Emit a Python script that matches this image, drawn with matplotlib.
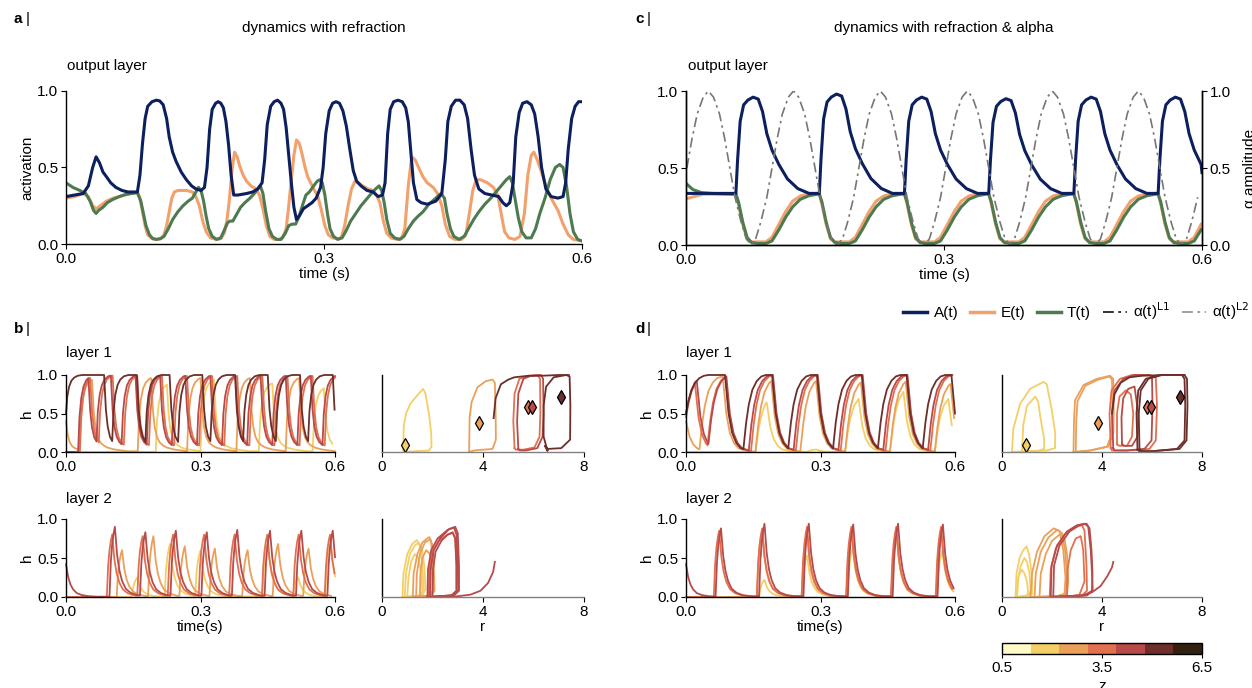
import matplotlib
matplotlib.use("Agg")
import matplotlib.pyplot as plt
import numpy as np
from matplotlib.colors import ListedColormap, BoundaryNorm
from matplotlib.lines import Line2D
import matplotlib as mpl

plt.rcParams['font.family'] = ['Liberation Sans', 'DejaVu Sans']
plt.rcParams['font.size'] = 11
plt.rcParams['axes.linewidth'] = 1.0

W, H = 1252, 688

# ---------------- colours ----------------
C_A = '#0c1f5e'
C_E = '#f2a06c'
C_T = '#4e7a50'
Z_COLORS = ['#fffbc9', '#f4cf66', '#eba05a', '#e2704f', '#b84a4a', '#6c2f2a', '#33210f']
Z_BOUNDS = [0.5, 1.357, 2.214, 3.071, 3.929, 4.786, 5.643, 6.5]

# ---------------- panel a: output layer (refraction) ----------------
A_PTS = [(0, .31), (.01, .32), (.02, .33), (.026, .38), (.031, .50), (.035, .57), (.039, .53), (.043, .47),
         (.047, .44), (.052, .40), (.058, .37), (.065, .35), (.072, .34), (.083, .34), (.086, .45), (.089, .66),
         (.092, .82), (.095, .90), (.1, .93), (.105, .94), (.109, .935), (.113, .91), (.117, .82), (.12, .7),
         (.124, .6), (.128, .54), (.134, .47), (.14, .42), (.146, .38), (.151, .36), (.157, .35), (.161, .37),
         (.164, .5), (.167, .75), (.17, .88), (.174, .92), (.177, .93), (.18, .92), (.183, .89), (.186, .8),
         (.189, .65), (.192, .45), (.195, .32), (.2, .32), (.21, .33), (.217, .34), (.223, .36), (.228, .4),
         (.231, .55), (.234, .78), (.238, .9), (.242, .93), (.246, .94), (.25, .92), (.253, .88), (.256, .76),
         (.259, .58), (.262, .4), (.265, .24), (.268, .16), (.272, .19), (.276, .23), (.281, .25), (.286, .27),
         (.291, .3), (.296, .37), (.299, .5), (.302, .72), (.306, .87), (.31, .92), (.314, .93), (.318, .92),
         (.322, .87), (.326, .77), (.33, .62), (.334, .48), (.338, .41), (.343, .38), (.35, .35), (.357, .34),
         (.363, .31), (.368, .32), (.371, .4), (.374, .72), (.377, .88), (.381, .93), (.386, .94), (.391, .93),
         (.395, .89), (.398, .8), (.401, .6), (.404, .4), (.408, .29), (.413, .27), (.42, .26), (.43, .28),
         (.437, .33), (.441, .55), (.444, .8), (.448, .9), (.453, .94), (.458, .94), (.463, .91), (.467, .82),
         (.471, .62), (.475, .45), (.48, .36), (.487, .33), (.495, .32), (.503, .31), (.508, .27), (.512, .25),
         (.516, .27), (.52, .4), (.523, .7), (.527, .86), (.531, .92), (.536, .93), (.541, .91), (.545, .85),
         (.549, .7), (.553, .5), (.558, .36), (.564, .31), (.572, .3), (.578, .31), (.581, .4), (.584, .62),
         (.588, .82), (.592, .9), (.596, .93), (.6, .93)]
E_PTS = [(0, .30), (.01, .31), (.02, .33), (.026, .31), (.031, .25), (.035, .23), (.04, .25), (.047, .28),
         (.055, .3), (.062, .31), (.075, .33), (.083, .34), (.086, .3), (.089, .21), (.092, .12), (.095, .06),
         (.1, .035), (.105, .03), (.11, .035), (.114, .06), (.117, .12), (.12, .21), (.123, .3), (.126, .34),
         (.13, .35), (.14, .35), (.147, .34), (.151, .31), (.155, .25), (.159, .15), (.163, .08), (.168, .04),
         (.175, .03), (.18, .035), (.184, .07), (.187, .15), (.19, .29), (.193, .48), (.196, .60), (.199, .57),
         (.202, .51), (.206, .45), (.21, .41), (.215, .38), (.221, .36), (.225, .32), (.229, .23), (.233, .12),
         (.237, .05), (.242, .03), (.248, .03), (.252, .04), (.256, .1), (.259, .25), (.262, .42), (.265, .58),
         (.268, .68), (.271, .66), (.274, .6), (.278, .5), (.281, .44), (.287, .37), (.293, .31), (.297, .22),
         (.301, .12), (.305, .06), (.31, .04), (.315, .035), (.32, .04), (.324, .12), (.328, .25), (.332, .36),
         (.336, .41), (.34, .40), (.345, .38), (.351, .36), (.357, .35), (.361, .32), (.365, .27), (.369, .15),
         (.373, .07), (.378, .04), (.385, .03), (.39, .035), (.394, .1), (.398, .38), (.402, .57), (.406, .55),
         (.41, .5), (.415, .44), (.42, .4), (.427, .37), (.432, .33), (.437, .25), (.441, .13), (.446, .05),
         (.452, .03), (.46, .03), (.465, .06), (.469, .2), (.473, .35), (.477, .42), (.482, .42), (.49, .4),
         (.497, .37), (.502, .32), (.506, .2), (.51, .08), (.515, .04), (.522, .03), (.528, .05), (.533, .2),
         (.537, .45), (.541, .58), (.544, .6), (.548, .55), (.553, .47), (.558, .38), (.564, .3), (.572, .22),
         (.578, .13), (.584, .06), (.59, .03), (.6, .02)]
T_PTS = [(0, .40), (.008, .37), (.016, .35), (.023, .33), (.028, .28), (.032, .22), (.035, .2), (.038, .22),
         (.043, .24), (.048, .27), (.054, .29), (.062, .31), (.07, .325), (.083, .335), (.087, .28), (.09, .2),
         (.093, .12), (.097, .06), (.101, .035), (.105, .03), (.11, .035), (.114, .05), (.119, .1), (.124, .16),
         (.13, .21), (.136, .25), (.142, .28), (.147, .3), (.151, .34), (.154, .37), (.157, .35), (.16, .28),
         (.163, .18), (.166, .1), (.17, .05), (.175, .03), (.18, .04), (.184, .09), (.188, .14), (.191, .15),
         (.194, .15), (.198, .19), (.203, .24), (.208, .27), (.214, .3), (.219, .33), (.223, .36), (.226, .38),
         (.229, .33), (.232, .22), (.236, .1), (.24, .05), (.245, .03), (.25, .03), (.255, .07), (.259, .12),
         (.263, .13), (.267, .13), (.271, .18), (.276, .27), (.279, .32), (.283, .34), (.288, .38), (.292, .41),
         (.295, .42), (.298, .40), (.301, .32), (.304, .2), (.307, .1), (.311, .05), (.316, .03), (.321, .04),
         (.326, .09), (.331, .15), (.337, .2), (.343, .25), (.349, .29), (.355, .33), (.36, .36), (.364, .38),
         (.367, .35), (.37, .27), (.373, .16), (.377, .07), (.382, .04), (.388, .03), (.393, .05), (.398, .1),
         (.404, .15), (.409, .18), (.415, .21), (.422, .26), (.43, .3), (.436, .33), (.44, .3), (.443, .2),
         (.447, .1), (.451, .05), (.457, .03), (.463, .05), (.468, .1), (.474, .16), (.48, .21), (.487, .26),
         (.494, .3), (.5, .34), (.506, .38), (.512, .42), (.516, .44), (.519, .4), (.522, .3), (.526, .17),
         (.53, .08), (.535, .04), (.541, .04), (.546, .1), (.551, .2), (.557, .3), (.563, .42), (.569, .5),
         (.574, .52), (.578, .5), (.582, .38), (.586, .2), (.59, .08), (.595, .03), (.6, .02)]

# ---------------- panel c: output layer (refraction & alpha) ----------------
C_RISE = [0.058, 0.155, 0.254, 0.352, 0.451, 0.549]
C_PEAK = [0.96, 0.98, 0.96, 0.95, 0.96, 0.96]
C_BASE = 0.335
CA_DT = [0, .002, .005, .009, .014, .020, .026, .031, .036, .042, .050, .060, .072, .085]
CA_F = [0.0, .35, .75, .92, .97, 1.0, .98, .85, .62, .45, .30, .15, .05, 0.0]
CT_DT = [0, .003, .008, .013, .018, .025, .035, .042, .050, .058, .066, .075, .085, .095]
CT_F = [1, .85, .45, .15, .05, .03, .03, .08, .30, .55, .75, .90, .97, 1.0]
CE_F = [1, .80, .40, .12, .06, .06, .06, .15, .40, .65, .85, .95, .99, 1.0]
ALPHA_PEAKS = [0.026, 0.125, 0.226, 0.327, 0.426, 0.526, 0.626]
ALPHA_DT = [-.05, -.044, -.038, -.031, -.025, -.019, -.013, -.006, 0, .006, .013, .019, .025, .031, .038, .044, .05]
ALPHA_V = [0.0, .04, .15, .31, .50, .69, .85, .96, 1.0, .96, .85, .69, .50, .31, .15, .04, 0.0]

# ---------------- panels b / d: hidden layers ----------------
# time-course shapes (fraction of rise / decay)
B1_RISE_DT = [0, .003, .007, .012, .018, .026, .036]
B1_RISE_F = [0, .45, .70, .85, .93, .98, 1.0]
B1_FALL_DT = [0, .004, .008, .013, .019, .026, .035, .050, .080]
B1_FALL_F = [1, .55, .33, .20, .13, .09, .06, .035, .01]
D1_RISE_DT = [0, .006, .012, .020, .030, .040, .050]
D1_RISE_F = [0, .35, .60, .80, .92, .98, 1.0]
D1_FALL_DT = [0, .008, .016, .025, .035, .050, .070]
D1_FALL_F = [1, .50, .25, .12, .05, .02, .005]
L2_RISE_DT = [0, .003, .006, .009, .012]
L2_RISE_F = [0, .50, .75, .90, 1.0]
L2_FALL_DT = [0, .005, .010, .016, .024, .035, .050, .070]
L2_FALL_F = [1, .60, .38, .23, .12, .06, .025, .01]

# layer-1 events: (onset, offset, peak) per z-colour index
B1_H0 = {5: 0.5, 4: 0.0, 3: 0.0, 2: 0.4, 1: 0.0}
B1_EVENTS = {
    5: [(0.0, .085, 1), (.103, .158, 1), (.177, .231, 1), (.25, .304, 1), (.322, .377, 1),
        (.395, .45, 1), (.468, .522, 1), (.54, .595, 1)],
    4: [(.027, .05, 1), (.068, .1, 1), (.124, .155, 1), (.18, .21, 1), (.236, .266, 1),
        (.292, .322, 1), (.348, .378, 1), (.404, .434, 1), (.46, .49, 1), (.516, .546, 1), (.572, .6, 1)],
    3: [(.031, .054, 1), (.073, .104, 1), (.129, .159, 1), (.185, .214, 1), (.241, .27, 1),
        (.297, .326, 1), (.353, .382, 1), (.409, .438, 1), (.465, .494, 1), (.521, .55, 1), (.577, .6, 1)],
    2: [(.03, .058, .95), (.16, .19, .97), (.27, .3, .97), (.38, .41, .97), (.49, .52, .97)],
    1: [(.2, .225, .9), (.3, .33, .95), (.43, .46, .9), (.55, .575, .85)],
}
D1_H0 = {5: 0.5, 4: 0.5, 3: 0.45, 2: 0.4, 1: 0.0}
D1_EVENTS = {
    5: [(0.0, .087, 1), (.128, .192, 1), (.228, .292, 1), (.328, .392, 1), (.428, .492, 1), (.528, .592, 1)],
    4: [(0.0, .024, 1), (.05, .09, 1), (.14, .194, 1), (.24, .294, 1), (.34, .394, 1), (.44, .494, 1), (.54, .594, 1)],
    3: [(0.0, .02, 1), (.048, .088, 1), (.145, .193, 1), (.245, .293, 1), (.345, .393, 1), (.445, .493, 1), (.545, .593, 1)],
    2: [(.03, .082, .98), (.155, .19, .97), (.255, .29, .97), (.355, .39, .95), (.455, .49, .96), (.555, .59, .93)],
    1: [(.155, .18, .75), (.27, .29, .04), (.355, .385, .75), (.455, .485, .85), (.555, .585, .75)],
}
# layer-2 events: (onset, peak)
B2_H0 = {4: 0.42, 3: 0.0, 2: 0.0, 1: 0.0}
B2_EVENTS = {
    4: [(.097, .9), (.165, .83), (.233, .85), (.302, .83), (.37, .86), (.443, .85), (.513, .85), (.583, .85)],
    3: [(.091, .8), (.159, .78), (.227, .8), (.296, .8), (.364, .8), (.437, .8), (.507, .8), (.577, .8)],
    2: [(.113, .6), (.183, .78), (.253, .65), (.32, .62), (.393, .6), (.461, .68), (.529, .62)],
    1: [(.147, .25), (.22, .68), (.288, .6), (.438, .7), (.506, .25), (.578, .7)],
}
D2_H0 = {4: 0.42, 3: 0.0, 2: 0.0, 1: 0.0}
D2_EVENTS = {
    4: [(.066, .88), (.163, .94), (.262, .94), (.361, .93), (.461, .94), (.561, .93)],
    3: [(.062, .85), (.158, .88), (.258, .9), (.357, .9), (.457, .9), (.557, .9)],
    2: [(.158, .85), (.258, .8), (.358, .85), (.458, .78), (.558, .8)],
    1: [(.163, .22), (.258, .53), (.36, .63), (.458, .78), (.56, .6)],
}

# phase loops (r, h) per z-colour index
B1_LOOPS = {
    1: [([.84, .86, .95, 1.13, 1.46, 1.63, 1.72, 1.86, 1.95, 1.96, 1.86, 1.3, .84],
         [0, .33, .5, .63, .76, .82, .76, .5, .24, .07, .02, .01, 0])],
    2: [([3.45, 3.47, 3.55, 3.78, 4.11, 4.38, 4.47, 4.5, 4.51, 4.38, 3.65, 3.45],
         [0, .45, .65, .84, .92, .94, .9, .5, .16, .04, .02, 0])],
    3: [([5.25, 5.2, 5.25, 5.44, 5.8, 6.17, 6.26, 6.27, 6.24, 6.04, 5.6, 5.3, 5.25],
         [.05, .4, .76, .95, .99, 1.0, .95, .5, .2, .06, .03, .03, .05])],
    4: [([5.4, 5.35, 5.4, 5.6, 5.9, 6.3, 6.38, 6.4, 6.36, 6.15, 5.7, 5.45, 5.4],
         [.04, .4, .76, .95, .99, 1.0, .95, .5, .2, .05, .02, .02, .04])],
    5: [([6.55, 6.4, 6.4, 6.5, 6.8, 7.3, 7.43, 7.46, 7.45, 7.1, 6.57, 6.45, 6.55],
         [.02, .2, .6, .85, .97, 1.0, .98, .6, .16, .05, .04, .08, .02]),
        ([4.42, 4.5, 4.71, 5.0, 5.24, 5.8, 6.3, 7.0, 7.4],
         [.44, .7, .88, .94, .97, .99, .99, 1.0, 1.0])],
}
B1_DIAMONDS = [(0.9, 0.09, 1), (3.85, 0.38, 2), (5.8, 0.58, 3), (5.95, 0.59, 4), (7.1, 0.71, 5)]
D1_LOOPS = {
    1: [([.4, .45, .73, 1.13, 1.66, 1.79, 1.99, 2.13, 2.12, 1.79, .9, .4],
         [0, .3, .63, .82, .91, .88, .55, .24, .05, .02, .01, 0]),
        ([.8, .85, 1.0, 1.33, 1.45, 1.53, 1.69, 1.68, 1.4, .8],
         [0, .35, .6, .72, .65, .46, .16, .04, .01, 0])],
    2: [([2.86, 2.88, 2.92, 3.26, 3.79, 4.32, 4.45, 4.47, 4.45, 4.25, 3.52, 2.86],
         [0, .4, .67, .87, .95, .99, .95, .5, .24, .07, .02, 0]),
        ([2.95, 2.97, 3.02, 3.33, 3.85, 4.3, 4.4, 4.42, 4.4, 4.2, 3.55, 2.95],
         [0, .4, .66, .86, .94, .98, .94, .5, .24, .07, .02, 0])],
    3: [([4.35, 4.3, 4.38, 4.72, 5.2, 5.9, 6.15, 6.2, 6.15, 5.9, 5.0, 4.4, 4.35],
         [.05, .5, .8, .95, 1.0, 1.0, .97, .6, .15, .04, .02, .02, .05]),
        ([4.6, 4.6, 4.7, 4.95, 5.15, 5.25, 5.2, 5.0, 4.7, 4.6],
         [.1, .5, .72, .8, .75, .5, .2, .08, .08, .1])],
    4: [([4.45, 4.4, 4.5, 4.85, 5.3, 5.9, 6.0, 6.02, 5.98, 5.7, 5.0, 4.5, 4.45],
         [.05, .5, .8, .95, 1.0, 1.0, .97, .6, .15, .04, .02, .02, .05]),
        ([4.8, 4.78, 4.85, 5.05, 5.3, 5.45, 5.42, 5.2, 4.9, 4.8],
         [.1, .45, .7, .82, .85, .5, .2, .08, .08, .1])],
    5: [([5.42, 5.38, 5.45, 5.75, 6.3, 7.3, 7.4, 7.42, 7.38, 7.1, 6.0, 5.5, 5.42],
         [.03, .5, .8, .95, 1.0, 1.0, .95, .6, .15, .04, .01, .01, .03]),
        ([5.5, 5.47, 5.55, 5.85, 6.4, 7.2, 7.3, 7.33, 7.3, 7.0, 6.0, 5.6, 5.5],
         [.03, .5, .8, .95, 1.0, 1.0, .95, .6, .15, .04, .01, .01, .03]),
        ([4.4, 4.5, 4.75, 5.1, 5.6, 6.5, 7.3],
         [.5, .75, .9, .97, .99, 1.0, 1.0])],
}
D1_DIAMONDS = [(0.95, 0.09, 1), (3.85, 0.38, 2), (5.8, 0.58, 3), (5.95, 0.59, 4), (7.1, 0.71, 5)]
B2_LOOPS = {
    1: [([.81, .85, 1.0, 1.2, 1.38, 1.5, 1.6, 1.65, 1.55, 1.2, .81], [0, .3, .55, .68, .73, .65, .4, .1, .02, .01, 0]),
        ([.9, .95, 1.1, 1.3, 1.45, 1.58, 1.68, 1.72, 1.6, 1.2, .9], [0, .3, .55, .66, .7, .62, .38, .1, .02, .01, 0]),
        ([1.0, 1.05, 1.15, 1.3, 1.45, 1.55, 1.6, 1.5, 1.0], [0, .25, .45, .55, .5, .3, .08, .02, 0])],
    2: [([1.22, 1.25, 1.4, 1.6, 1.87, 1.95, 2.0, 2.03, 1.9, 1.5, 1.22], [0, .3, .55, .7, .77, .7, .4, .08, .02, .01, 0]),
        ([1.35, 1.38, 1.5, 1.7, 1.92, 2.0, 2.05, 2.08, 1.95, 1.6, 1.35], [0, .3, .55, .7, .74, .66, .4, .08, .02, .01, 0]),
        ([1.5, 1.52, 1.6, 1.75, 1.9, 1.98, 2.0, 1.85, 1.5], [0, .3, .5, .6, .55, .35, .08, .02, 0])],
    4: [([1.8, 1.82, 1.95, 2.2, 2.6, 2.85, 2.95, 3.0, 3.02, 2.8, 2.2, 1.8], [0, .35, .6, .75, .86, .89, .8, .4, .08, .02, .01, 0]),
        ([1.9, 1.92, 2.05, 2.3, 2.65, 2.9, 3.0, 3.05, 3.05, 2.85, 2.3, 1.9], [0, .35, .6, .75, .87, .9, .82, .4, .08, .02, .01, 0]),
        ([2.0, 2.02, 2.12, 2.35, 2.6, 2.8, 2.9, 2.95, 2.95, 2.75, 2.3, 2.0], [0, .35, .58, .72, .8, .83, .75, .4, .08, .02, .01, 0]),
        ([2.05, 2.2, 2.6, 3.0, 3.5, 3.9, 4.2, 4.4, 4.47], [0, .0, .0, .01, .03, .08, .18, .32, .45])],
    3: [([1.85, 1.87, 2.0, 2.25, 2.6, 2.8, 2.9, 2.95, 2.95, 2.75, 2.2, 1.85], [0, .35, .58, .72, .8, .82, .75, .4, .08, .02, .01, 0])],
}
D2_LOOPS = {
    1: [([.54, .58, .7, .85, .98, 1.08, 1.15, 1.21, 1.2, 1.0, .54], [0, .3, .5, .6, .65, .55, .4, .2, .04, .01, 0]),
        ([.6, .62, .7, .8, .9, 1.0, 1.05, .95, .6], [0, .2, .3, .35, .3, .2, .05, .01, 0]),
        ([.6, .65, .75, .9, 1.0, 1.1, 1.15, 1.05, .6], [0, .25, .4, .5, .45, .3, .08, .02, 0])],
    2: [([1.14, 1.2, 1.4, 1.7, 2.07, 2.3, 2.45, 2.54, 2.5, 2.2, 1.14], [0, .3, .58, .78, .88, .85, .6, .25, .04, .01, 0]),
        ([1.3, 1.35, 1.55, 1.85, 2.2, 2.4, 2.52, 2.6, 2.55, 2.2, 1.3], [0, .3, .58, .76, .86, .82, .6, .25, .04, .01, 0]),
        ([1.5, 1.55, 1.75, 2.0, 2.3, 2.5, 2.6, 2.65, 2.6, 2.3, 1.5], [0, .3, .55, .72, .8, .75, .55, .2, .04, .01, 0])],
    3: [([1.91, 1.95, 2.15, 2.5, 2.9, 3.2, 3.3, 3.38, 3.4, 3.2, 2.5, 1.91], [0, .35, .62, .8, .9, .92, .85, .4, .08, .02, .01, 0]),
        ([2.6, 2.62, 2.75, 2.95, 3.15, 3.25, 3.3, 3.1, 2.6], [0, .35, .6, .75, .78, .6, .2, .03, 0])],
    4: [([1.95, 1.98, 2.2, 2.6, 3.0, 3.31, 3.45, 3.55, 3.6, 3.63, 3.4, 2.6, 1.95], [0, .4, .66, .84, .92, .94, .9, .6, .3, .08, .02, .01, 0]),
        ([2.05, 2.08, 2.3, 2.7, 3.1, 3.38, 3.5, 3.58, 3.62, 3.6, 3.3, 2.5, 2.05], [0, .4, .66, .84, .92, .94, .88, .6, .3, .08, .02, .01, 0]),
        ([2.54, 2.8, 3.2, 3.6, 3.94, 4.2, 4.4, 4.45], [0, .0, .02, .06, .14, .26, .38, .45])],
}

R_AXIS_TICKS = [0, 4, 8]
T_TICKS = [0.0, 0.3, 0.6]
H_TICKS = [0.0, 0.5, 1.0]


def ax_px(x0, y0, x1, y1):
    return fig.add_axes([x0 / W, 1 - y1 / H, (x1 - x0) / W, (y1 - y0) / H])


def ftext(x, y, s, **kw):
    fig.text(x / W, 1 - y / H, s, **kw)


def build_l1(h0, events, rdt, rf, fdt, ff, tmax=0.6):
    ts, hs = [0.0], [h0]
    t_d, h_d = 0.0, h0
    for on, off, peak in events:
        if on > t_d:
            for dt, f in zip(fdt[1:], ff[1:]):
                if t_d + dt >= on:
                    break
                ts.append(t_d + dt); hs.append(h_d * f)
            h_on = h_d * np.interp(on - t_d, fdt, ff)
            ts.append(on); hs.append(h_on)
        else:
            h_on = h_d
        for dt, f in zip(rdt[1:], rf[1:]):
            if on + dt >= off:
                break
            ts.append(on + dt); hs.append(h_on + (peak - h_on) * f)
        h_off = h_on + (peak - h_on) * np.interp(off - on, rdt, rf)
        ts.append(off); hs.append(h_off)
        t_d, h_d = off, h_off
    for dt, f in zip(fdt[1:], ff[1:]):
        if t_d + dt > tmax:
            break
        ts.append(t_d + dt); hs.append(h_d * f)
    return np.array(ts), np.array(hs)


def build_l2(h0, events):
    ev = [(on, on + L2_RISE_DT[-1], pk) for on, pk in events]
    return build_l1(h0, ev, L2_RISE_DT, L2_RISE_F, L2_FALL_DT, L2_FALL_F)


def style_time(ax, xlabel=None):
    ax.set_xlim(0, 0.6)
    ax.set_ylim(0, 1.0)
    ax.set_xticks(T_TICKS)
    ax.set_xticklabels(['0.0', '0.3', '0.6'])
    ax.set_yticks(H_TICKS)
    ax.set_yticklabels(['0.0', '0.5', '1.0'])
    ax.spines['top'].set_visible(False)
    ax.spines['right'].set_visible(False)
    ax.set_ylabel('h', labelpad=2)
    ax.tick_params(length=3.5, pad=2)
    if xlabel:
        ax.set_xlabel(xlabel, labelpad=1)


def style_phase(ax, xlabel=None):
    ax.set_xlim(0, 8)
    ax.set_ylim(0, 1.0)
    ax.set_xticks(R_AXIS_TICKS)
    ax.set_yticks([])
    ax.spines['top'].set_visible(False)
    ax.spines['right'].set_visible(False)
    ax.spines['bottom'].set_color('#808080')
    ax.tick_params(length=3.5, pad=2)
    if xlabel:
        ax.set_xlabel(xlabel, labelpad=1)


fig = plt.figure(figsize=(W / 100, H / 100), dpi=100)

# ---- panel a ----
ax_a = ax_px(66, 91, 582, 244)
for pts, col in [(E_PTS, C_E), (T_PTS, C_T), (A_PTS, C_A)]:
    ax_a.plot([p[0] for p in pts], [p[1] for p in pts], color=col, lw=2.2, solid_joinstyle='round')
ax_a.set_xlim(0, 0.6)
ax_a.set_ylim(0, 1.0)
ax_a.set_xticks(T_TICKS)
ax_a.set_xticklabels(['0.0', '0.3', '0.6'])
ax_a.set_yticks(H_TICKS)
ax_a.set_yticklabels(['0.0', '0.5', '1.0'])
ax_a.spines['top'].set_visible(False)
ax_a.spines['right'].set_visible(False)
ax_a.set_ylabel('activation', labelpad=2)
ax_a.set_xlabel('time (s)', labelpad=1)
ax_a.tick_params(length=3.5, pad=2)

# ---- panel c ----
ax_c = ax_px(686, 91, 1202, 245)
ca_t, ca_v = [0.0, 0.03, 0.056], [C_BASE, C_BASE, C_BASE]
e_t = [0.0, 0.02, 0.056]; e_v = [0.30, 0.33, 0.33]
t_t = [0.0, 0.008, 0.018, 0.03, 0.056]; t_v = [0.40, 0.36, 0.34, 0.335, 0.33]
for r, pk in zip(C_RISE, C_PEAK):
    for dt, f in zip(CA_DT, CA_F):
        if r + dt <= 0.6:
            ca_t.append(r + dt); ca_v.append(C_BASE + (pk - C_BASE) * f)
    for dt, ft, fe in zip(CT_DT, CT_F, CE_F):
        if r + dt <= 0.6:
            t_t.append(r + dt); t_v.append(0.33 * ft)
            e_t.append(r + dt); e_v.append(0.335 * fe)
ca_t.append(0.6); ca_v.append(0.47)
al_t, al_v = [], []
for p in ALPHA_PEAKS:
    for dt, v in zip(ALPHA_DT, ALPHA_V):
        if 0 <= p + dt <= 0.6 and (not al_t or p + dt > al_t[-1]):
            al_t.append(p + dt); al_v.append(v)
ax_c.plot(e_t, e_v, color=C_E, lw=2.2)
ax_c.plot(t_t, t_v, color=C_T, lw=2.2)
ax_c.plot(ca_t, ca_v, color=C_A, lw=2.2)
ax_c.plot(al_t, al_v, color='#767676', lw=1.2, ls=(0, (6, 2.5, 1.5, 2.5)))
ax_c.set_xlim(0, 0.6)
ax_c.set_ylim(0, 1.0)
ax_c.set_xticks(T_TICKS)
ax_c.set_xticklabels(['0.0', '0.3', '0.6'])
ax_c.set_yticks(H_TICKS)
ax_c.set_yticklabels(['0.0', '0.5', '1.0'])
ax_c.spines['top'].set_visible(False)
ax_c.set_xlabel('time (s)', labelpad=1)
ax_c.tick_params(length=3.5, pad=2)
ax_c2 = ax_c.twinx()
ax_c2.set_ylim(0, 1.0)
ax_c2.set_yticks(H_TICKS)
ax_c2.set_yticklabels(['0.0', '0.5', '1.0'])
ax_c2.spines['top'].set_visible(False)
ax_c2.set_ylabel('α amplitude', labelpad=9)
ax_c2.tick_params(length=3.5, pad=2)

handles = [Line2D([], [], color=C_A, lw=2.5), Line2D([], [], color=C_E, lw=2.5),
           Line2D([], [], color=C_T, lw=2.5),
           Line2D([], [], color='#222222', lw=1.3, ls=(0, (6, 2.5, 1.5, 2.5))),
           Line2D([], [], color='#999999', lw=1.3, ls=(0, (6, 2.5, 1.5, 2.5)))]
labels = ['A(t)', 'E(t)', 'T(t)', 'α(t)$^{\\mathrm{L1}}$', 'α(t)$^{\\mathrm{L2}}$']
fig.legend(handles, labels, loc='center left', bbox_to_anchor=(903 / W, 1 - 311 / H), ncol=5,
           frameon=False, handlelength=1.6, handletextpad=0.4, columnspacing=0.75, fontsize=11,
           borderpad=0, borderaxespad=0)

# ---- panels b / d ----
cmap = ListedColormap(Z_COLORS)
norm = BoundaryNorm(Z_BOUNDS, cmap.N)


def time_panel(ax, h0s, events, layer):
    for zi in sorted(events.keys()):
        if layer == 'b1':
            t, h = build_l1(h0s[zi], events[zi], B1_RISE_DT, B1_RISE_F, B1_FALL_DT, B1_FALL_F)
        elif layer == 'd1':
            t, h = build_l1(h0s[zi], events[zi], D1_RISE_DT, D1_RISE_F, D1_FALL_DT, D1_FALL_F)
        else:
            t, h = build_l2(h0s[zi], events[zi])
        ax.plot(t, h, color=Z_COLORS[zi], lw=1.3, clip_on=False)


def phase_panel(ax, loops, diamonds=None):
    for zi in sorted(loops.keys()):
        for r, h in loops[zi]:
            ax.plot(r, h, color=Z_COLORS[zi], lw=1.3, clip_on=False)
    if diamonds:
        for r, h, zi in diamonds:
            ax.plot(r, h, marker='d', ms=7, mfc=Z_COLORS[zi], mec='black', mew=0.9, ls='none')


ax = ax_px(66, 375, 335, 452); time_panel(ax, B1_H0, B1_EVENTS, 'b1'); style_time(ax)
ax = ax_px(382, 375, 584, 452); phase_panel(ax, B1_LOOPS, B1_DIAMONDS); style_phase(ax)
ax = ax_px(66, 519, 335, 597); time_panel(ax, B2_H0, B2_EVENTS, 'l2'); style_time(ax, 'time(s)')
ax = ax_px(382, 519, 584, 597); phase_panel(ax, B2_LOOPS); style_phase(ax, 'r')
ax = ax_px(686, 375, 955, 452); time_panel(ax, D1_H0, D1_EVENTS, 'd1'); style_time(ax)
ax = ax_px(1002, 375, 1202, 452); phase_panel(ax, D1_LOOPS, D1_DIAMONDS); style_phase(ax)
ax = ax_px(686, 519, 955, 597); time_panel(ax, D2_H0, D2_EVENTS, 'l2'); style_time(ax, 'time(s)')
ax = ax_px(1002, 519, 1202, 597); phase_panel(ax, D2_LOOPS); style_phase(ax, 'r')

# ---- colourbar ----
cax = ax_px(1002, 643, 1202, 654)
cb = mpl.colorbar.ColorbarBase(cax, cmap=cmap, norm=norm, orientation='horizontal',
                               ticks=[0.5, 3.5, 6.5], spacing='proportional')
cb.ax.set_xticklabels(['0.5', '3.5', '6.5'])
cb.ax.minorticks_off()
cb.ax.tick_params(length=3, pad=2)
cb.outline.set_linewidth(1.0)
cb.set_label('z', labelpad=3)

# ---- labels ----
ftext(14, 23, 'a', fontweight='bold', fontsize=11)
ftext(26, 23, '|', fontsize=11)
ftext(635, 23, 'c', fontweight='bold', fontsize=11)
ftext(647, 23, '|', fontsize=11)
ftext(14, 333, 'b', fontweight='bold', fontsize=11)
ftext(26, 333, '|', fontsize=11)
ftext(635, 333, 'd', fontweight='bold', fontsize=11)
ftext(647, 333, '|', fontsize=11)
ftext(324, 32, 'dynamics with refraction', ha='center', fontsize=11)
ftext(944, 32, 'dynamics with refraction & alpha', ha='center', fontsize=11)
ftext(67, 70, 'output layer', fontsize=11)
ftext(688, 70, 'output layer', fontsize=11)
ftext(66, 357, 'layer 1', fontsize=11)
ftext(66, 503, 'layer 2', fontsize=11)
ftext(686, 357, 'layer 1', fontsize=11)
ftext(686, 503, 'layer 2', fontsize=11)

fig.savefig('out.png', dpi=100)
